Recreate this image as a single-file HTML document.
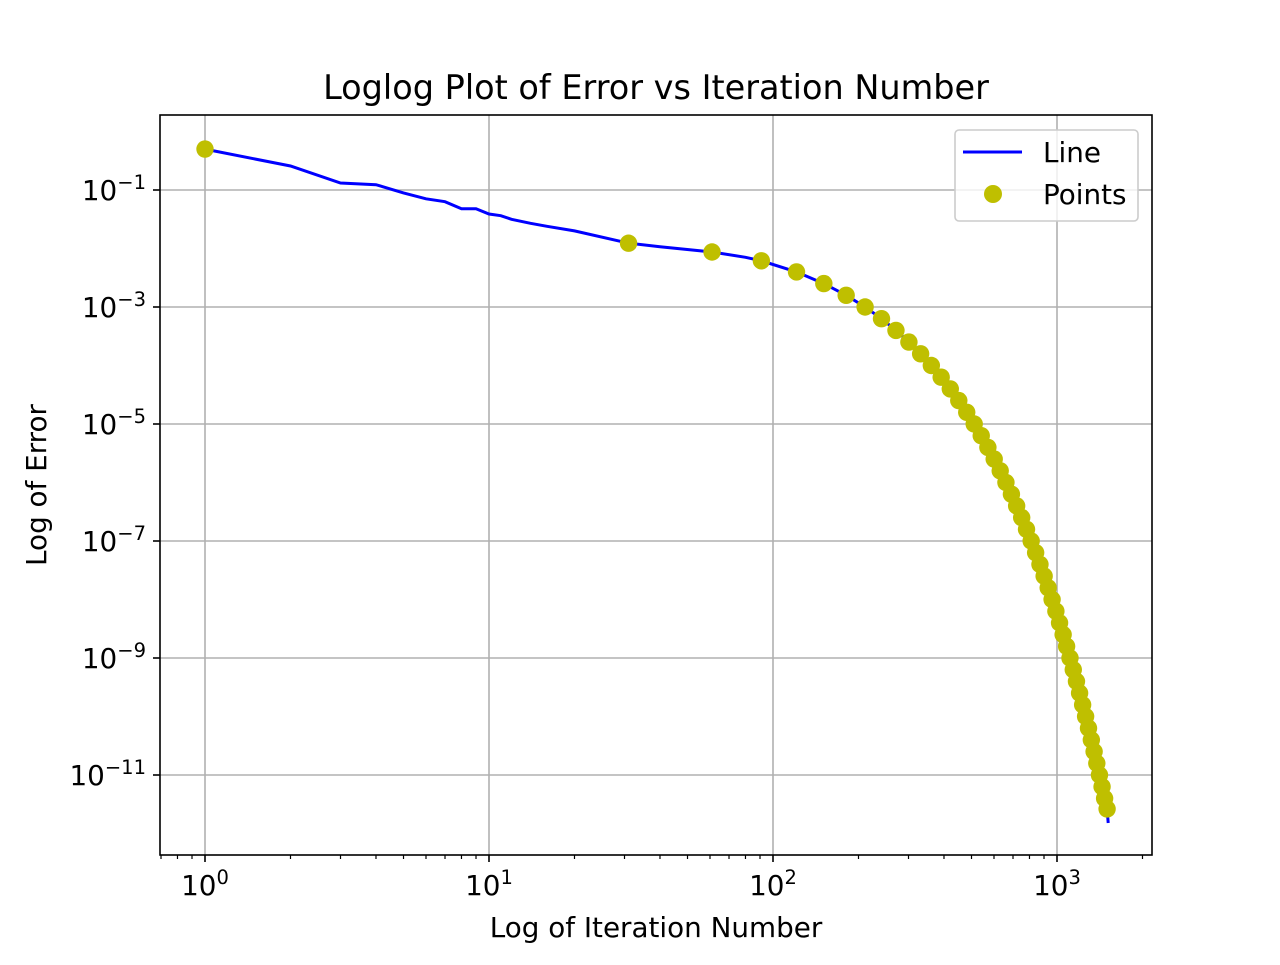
<!DOCTYPE html>
<html><head><meta charset="utf-8"><style>
body{margin:0;background:#fff;}
svg text{font-family:"DejaVu Sans","Liberation Sans",sans-serif;fill:#000;}
</style></head><body>
<svg id="chart" width="1280" height="960" xmlns="http://www.w3.org/2000/svg">
<rect width="1280" height="960" fill="#fff"/>
<g id="grid"></g>
<g id="series"></g>
<rect x="160" y="115" width="992" height="740" fill="none" stroke="#000" stroke-width="1.6"/>
<g id="axes"></g>
<text x="656" y="99" font-size="33.5" text-anchor="middle">Loglog Plot of Error vs Iteration Number</text>
<text x="656" y="937" font-size="27.8" text-anchor="middle">Log of Iteration Number</text>
<text transform="translate(46,485) rotate(-90)" font-size="27.8" text-anchor="middle">Log of Error</text>
<g>
<rect x="955" y="130" width="183" height="91" rx="4" fill="#fff" fill-opacity="0.8" stroke="#ccc" stroke-width="1.6"/>
<line x1="963" y1="152" x2="1022" y2="152" stroke="#0000ff" stroke-width="3"/>
<text x="1043" y="162" font-size="27.8">Line</text>
<circle cx="993" cy="194" r="9" fill="#bfbf00"/>
<text x="1043" y="204" font-size="27.8">Points</text>
</g>
</svg>
<script>
const xTickExps=[0,1,2,3];
const yTickExps=[-1,-3,-5,-7,-9,-11];
const lineIters=[1,2,3,4,5,6,7,8,9,10,11,12,14,16,20,31,40,61,80,91,121,151,181,211,241,271,301,331,361,391,421,451,481,511,541,571,601,631,661,691,721,751,781,811,841,871,901,931,961,991,1021,1051,1081,1111,1141,1171,1201,1231,1261,1291,1321,1351,1381,1411,1441,1471,1501,1515];
const lineLogErr=[-0.30,-0.59,-0.88,-0.91,-1.05,-1.15,-1.20,-1.32,-1.32,-1.41,-1.44,-1.50,-1.57,-1.62,-1.70,-1.91,-1.97,-2.06,-2.15,-2.21,-2.40,-2.60,-2.80,-3.00,-3.20,-3.40,-3.60,-3.80,-4.00,-4.20,-4.40,-4.60,-4.80,-5.00,-5.20,-5.40,-5.60,-5.80,-6.00,-6.20,-6.40,-6.60,-6.80,-7.00,-7.20,-7.40,-7.60,-7.80,-8.00,-8.20,-8.40,-8.60,-8.80,-9.00,-9.20,-9.40,-9.60,-9.80,-10.00,-10.20,-10.40,-10.60,-10.80,-11.00,-11.20,-11.40,-11.58,-11.82];
const pointIters=[1,31,61,91,121,151,181,211,241,271,301,331,361,391,421,451,481,511,541,571,601,631,661,691,721,751,781,811,841,871,901,931,961,991,1021,1051,1081,1111,1141,1171,1201,1231,1261,1291,1321,1351,1381,1411,1441,1471,1501];
const pointLogErr=[-0.30,-1.91,-2.06,-2.21,-2.40,-2.60,-2.80,-3.00,-3.20,-3.40,-3.60,-3.80,-4.00,-4.20,-4.40,-4.60,-4.80,-5.00,-5.20,-5.40,-5.60,-5.80,-6.00,-6.20,-6.40,-6.60,-6.80,-7.00,-7.20,-7.40,-7.60,-7.80,-8.00,-8.20,-8.40,-8.60,-8.80,-9.00,-9.20,-9.40,-9.60,-9.80,-10.00,-10.20,-10.40,-10.60,-10.80,-11.00,-11.20,-11.40,-11.58];
const NS="http://www.w3.org/2000/svg";
const xs=v=>205+284*Math.log10(v);
const xe=e=>205+284*e;
const ys=le=>190-58.5*(le+1);
function mk(tag,attrs,parent){const el=document.createElementNS(NS,tag);for(const k in attrs)el.setAttribute(k,attrs[k]);parent.appendChild(el);return el;}
const grid=document.getElementById('grid'),axes=document.getElementById('axes'),series=document.getElementById('series');
xTickExps.forEach(e=>{
  const x=xe(e);
  const g=mk('line',{x1:x,x2:x,y1:115,y2:855,stroke:'#b0b0b0','stroke-width':1.6},grid);
  
  
  mk('line',{x1:x,x2:x,y1:855,y2:862,stroke:'#000','stroke-width':1.6},axes);
  const t=mk('text',{x:x,y:895,'font-size':27.8,'text-anchor':'middle'},axes);
  
  
  t.textContent='10';
  const s=mk('tspan',{dy:-11,'font-size':19.5},t);s.textContent=e;
});
for(let e=-1;e<=3;e++){for(let m=2;m<=9;m++){const x=xs(m*Math.pow(10,e));if(x>160&&x<1152)mk('line',{x1:x,x2:x,y1:855,y2:859,stroke:'#000','stroke-width':1.2},axes);}}
yTickExps.forEach(e=>{
  const y=ys(e);
  const g=mk('line',{x1:160,x2:1152,y1:y,y2:y,stroke:'#b0b0b0','stroke-width':1.6},grid);
  
  
  mk('line',{x1:153,x2:160,y1:y,y2:y,stroke:'#000','stroke-width':1.6},axes);
  const t=mk('text',{x:146,y:y+10,'font-size':27.8,'text-anchor':'end'},axes);
  
  
  const base=document.createElementNS(NS,'tspan');base.textContent='10';t.appendChild(base);
  const s=mk('tspan',{dy:-11,'font-size':19.5},t);s.textContent='\u2212'+Math.abs(e);
});
const d=lineIters.map((v,i)=>(i?'L':'M')+xs(v).toFixed(1)+' '+ys(lineLogErr[i]).toFixed(1)).join(' ');
const p=mk('path',{d:d,fill:'none',stroke:'#0000ff','stroke-width':3},series);


pointIters.forEach((v,i)=>{
  const c=mk('circle',{cx:xs(v),cy:ys(pointLogErr[i]),r:8.7,fill:'#bfbf00'},series);
  
  
});
</script>
</body></html>
